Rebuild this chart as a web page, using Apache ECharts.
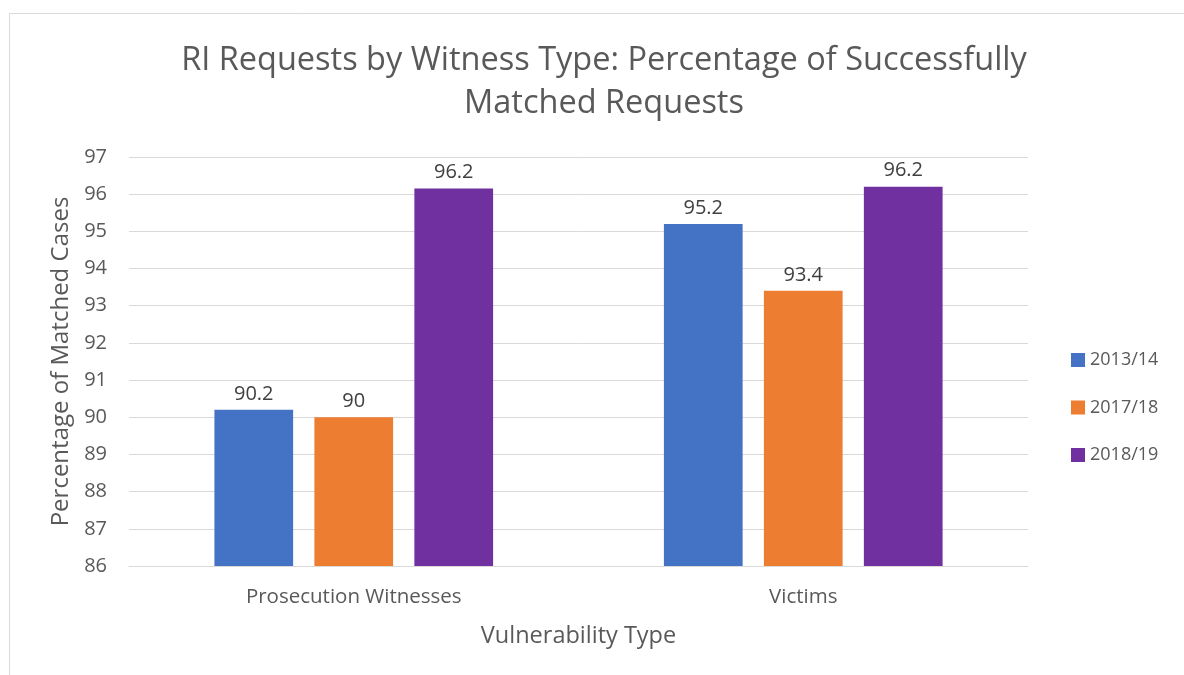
<!DOCTYPE html>
<html><head><meta charset="utf-8">
<script src="https://cdn.jsdelivr.net/npm/echarts@6/dist/echarts.min.js"></script>
<style>html,body{margin:0;padding:0;background:#fff}#c{width:1184px;height:675px}</style>
</head><body><div id="c"></div>
<script>
const categories = ['Prosecution Witnesses', 'Victims'];
const seriesNames = ['2013/14', '2017/18', '2018/19'];
const values2013 = [90.2, 95.2];
const values2017 = [90, 93.4];
const values2018 = [96.15, 96.2];
const colors = ['#4472C4', '#ED7D31', '#7030A0'];
const F = '"Open Sans", "Noto Sans", sans-serif';
const chart = echarts.init(document.getElementById('c'));
const fmt = p => String(Math.round(p.value * 10) / 10);
const mk = (name, data, color) => ({
  name, type: 'bar', data, itemStyle: { color },
  barGap: '27%', barCategoryGap: '38%',
  label: { show: true, position: 'top', distance: 6, formatter: fmt, fontFamily: F, fontSize: 20, color: '#404040' }
});
chart.setOption({
  animation: false,
  title: {
    text: 'RI Requests by Witness Type: Percentage of Successfully\nMatched Requests',
    left: 599, textAlign: 'center', top: 34,
    textStyle: { fontFamily: F, fontSize: 32.5, fontWeight: 'normal', color: '#595959', lineHeight: 43 }
  },
  graphic: [{ type: 'rect', shape: { x: 9.5, y: 13.5, width: 1300, height: 800 }, style: { fill: 'none', stroke: '#d9d9d9', lineWidth: 1 }, silent: true }],
  legend: {
    orient: 'vertical', left: 1066, top: 346, itemGap: 29.5, itemWidth: 14, itemHeight: 14,
    icon: 'rect', data: seriesNames,
    textStyle: { fontFamily: F, fontSize: 18, color: '#595959' }
  },
  grid: { left: 129, right: 156, top: 157, bottom: 109, containLabel: false },
  xAxis: {
    type: 'category', data: categories,
    name: 'Vulnerability Type', nameLocation: 'middle', nameGap: 58,
    nameTextStyle: { fontFamily: F, fontSize: 23.5, color: '#595959' },
    axisLine: { show: true, lineStyle: { color: '#d9d9d9', width: 1 } },
    axisTick: { show: false },
    axisLabel: { fontFamily: F, fontSize: 20.5, color: '#595959', margin: 21 }
  },
  yAxis: {
    type: 'value', min: 86, max: 97, interval: 1,
    name: 'Percentage of Matched Cases', nameLocation: 'middle', nameGap: 55, nameRotate: 90,
    nameTextStyle: { fontFamily: F, fontSize: 24, color: '#595959' },
    axisLine: { show: false }, axisTick: { show: false },
    axisLabel: { fontFamily: F, fontSize: 20, color: '#595959', margin: 22 },
    splitLine: { lineStyle: { color: '#d9d9d9', width: 1 } }
  },
  series: [mk(seriesNames[0], values2013, colors[0]), mk(seriesNames[1], values2017, colors[1]), mk(seriesNames[2], values2018, colors[2])]
});
</script></body></html>
